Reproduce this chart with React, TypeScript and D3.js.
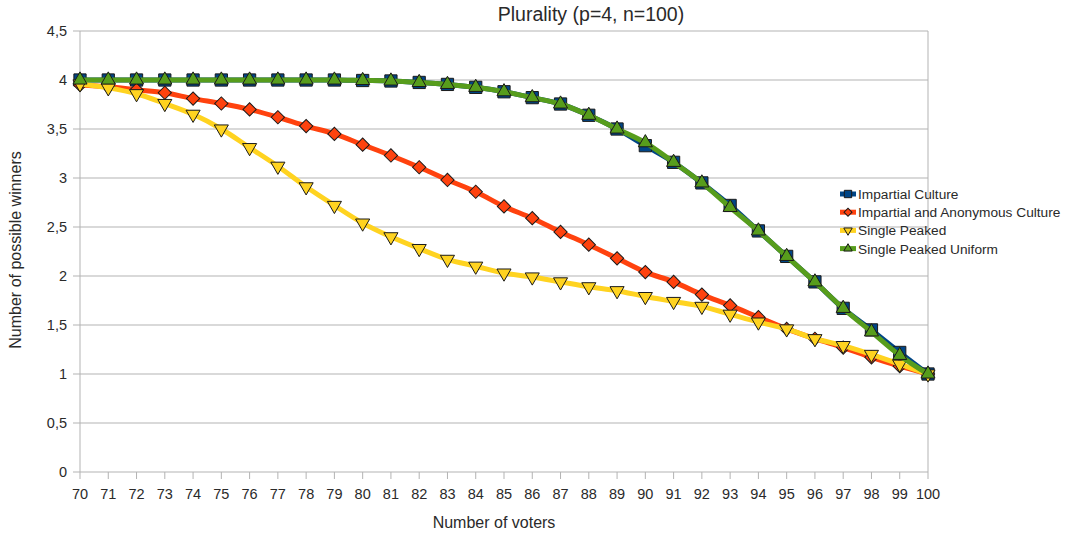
import { useRef, useEffect } from "react";
import * as d3 from "d3";

const voters = d3.range(70, 101);

const impartialCulture = [
  4, 4, 4, 4, 4, 4, 4, 4, 4, 4, 3.995, 3.99, 3.975, 3.955, 3.925, 3.88, 3.82,
  3.755, 3.64, 3.5, 3.33, 3.16, 2.95, 2.72, 2.46, 2.2, 1.94, 1.67, 1.45, 1.22, 1,
];
const impartialAnonymous = [
  3.95, 3.93, 3.9, 3.87, 3.81, 3.76, 3.7, 3.62, 3.53, 3.45, 3.34, 3.23, 3.11,
  2.98, 2.86, 2.71, 2.59, 2.45, 2.32, 2.18, 2.04, 1.94, 1.81, 1.7, 1.58, 1.46,
  1.36, 1.27, 1.17, 1.08, 1,
];
const singlePeaked = [
  3.96, 3.92, 3.86, 3.76, 3.65, 3.5, 3.31, 3.12, 2.91, 2.72, 2.54, 2.4, 2.28,
  2.17, 2.1, 2.03, 1.99, 1.94, 1.89, 1.85, 1.79, 1.74, 1.69, 1.61, 1.53, 1.46,
  1.36, 1.29, 1.2, 1.1, 1,
];
const singlePeakedUniform = [
  4, 4, 4, 4, 4, 4, 4, 4, 4, 4, 3.995, 3.99, 3.975, 3.955, 3.925, 3.88, 3.82,
  3.755, 3.64, 3.5, 3.36, 3.16, 2.95, 2.7, 2.46, 2.2, 1.94, 1.67, 1.43, 1.19, 1,
];
const yTicks = [0, 0.5, 1, 1.5, 2, 2.5, 3, 3.5, 4, 4.5];

const series = [
  { name: "Impartial Culture", values: impartialCulture, color: "#004586", shape: "square" },
  { name: "Impartial and Anonymous Culture", values: impartialAnonymous, color: "#ff420e", shape: "diamond" },
  { name: "Single Peaked", values: singlePeaked, color: "#ffd320", shape: "down" },
  { name: "Single Peaked Uniform", values: singlePeakedUniform, color: "#579d1c", shape: "up" },
];

const FONT = "'Liberation Sans', Arial, sans-serif";

function markerPath(shape: string, scale: number) {
  if (shape === "square") return d3.symbol(d3.symbolSquare, 150 * scale * scale)();
  if (shape === "diamond") return d3.symbol(d3.symbolSquare, 88 * scale * scale)();
  return d3.symbol(d3.symbolTriangle, 86 * scale * scale)();
}
function markerRotate(shape: string) {
  if (shape === "diamond") return 45;
  if (shape === "down") return 180;
  return 0;
}

export default function App() {
  const ref = useRef<SVGSVGElement>(null);

  useEffect(() => {
    const svg = d3.select(ref.current);
    svg.selectAll("*").remove();

    const left = 80, right = 928, top = 31, bottom = 472;
    const x = d3.scaleLinear().domain([70, 100]).range([left, right]);
    const y = d3.scaleLinear().domain([0, 4.5]).range([bottom, top]);
    const fmt = (v: number) => String(v).replace(".", ",");

    // grid + frame
    svg.append("g")
      .selectAll("line")
      .data(yTicks)
      .join("line")
      .attr("x1", left).attr("x2", right)
      .attr("y1", (d) => y(d)).attr("y2", (d) => y(d))
      .attr("stroke", "#b3b3b3").attr("stroke-width", 1);
    svg.append("line")
      .attr("x1", left).attr("x2", left).attr("y1", top).attr("y2", bottom)
      .attr("stroke", "#b3b3b3");
    svg.append("line")
      .attr("x1", right).attr("x2", right).attr("y1", top).attr("y2", bottom)
      .attr("stroke", "#b3b3b3");

    // y ticks
    const yg = svg.append("g");
    yg.selectAll("line")
      .data(yTicks)
      .join("line")
      .attr("x1", left - 7).attr("x2", left)
      .attr("y1", (d) => y(d)).attr("y2", (d) => y(d))
      .attr("stroke", "#b3b3b3");
    yg.selectAll("text")
      .data(yTicks)
      .join("text")
      .attr("x", left - 13).attr("y", (d) => y(d) + 5)
      .attr("text-anchor", "end")
      .attr("font-family", FONT).attr("font-size", 14.5).attr("fill", "#2a2a2a")
      .text(fmt);

    // x ticks
    const xg = svg.append("g");
    xg.selectAll("line")
      .data(voters)
      .join("line")
      .attr("x1", (d) => x(d)).attr("x2", (d) => x(d))
      .attr("y1", bottom).attr("y2", bottom + 7)
      .attr("stroke", "#b3b3b3");
    xg.selectAll("text")
      .data(voters)
      .join("text")
      .attr("x", (d) => x(d)).attr("y", bottom + 27)
      .attr("text-anchor", "middle")
      .attr("font-family", FONT).attr("font-size", 14.5).attr("fill", "#2a2a2a")
      .text((d) => d);

    // series
    const line = d3.line<number>()
      .x((_, i) => x(voters[i]))
      .y((d) => y(d))
      .curve(d3.curveMonotoneX);

    series.forEach((s) => {
      const g = svg.append("g");
      g.append("path")
        .attr("d", line(s.values))
        .attr("fill", "none")
        .attr("stroke", s.color)
        .attr("stroke-width", 5)
        .attr("stroke-linejoin", "round");
      g.selectAll("path.m")
        .data(s.values)
        .join("path")
        .attr("class", "m")
        .attr("d", markerPath(s.shape, 1))
        .attr("transform", (d, i) =>
          `translate(${x(voters[i])},${y(d)}) rotate(${markerRotate(s.shape)})`)
        .attr("fill", s.color)
        .attr("stroke", "#1a1a1a")
        .attr("stroke-width", 1);
    });

    // legend
    const lg = svg.append("g");
    series.forEach((s, i) => {
      const ly = 194 + i * 18.2;
      lg.append("line")
        .attr("x1", 840).attr("x2", 856).attr("y1", ly).attr("y2", ly)
        .attr("stroke", s.color).attr("stroke-width", 5);
      lg.append("path")
        .attr("d", markerPath(s.shape, 0.6))
        .attr("transform", `translate(848,${ly}) rotate(${markerRotate(s.shape)})`)
        .attr("fill", s.color).attr("stroke", "#1a1a1a").attr("stroke-width", 1);
      lg.append("text")
        .attr("x", 858).attr("y", ly + 5)
        .attr("font-family", FONT).attr("font-size", 13.7).attr("fill", "#2a2a2a")
        .text(s.name);
    });

    // titles
    svg.append("text")
      .attr("x", 591).attr("y", 21)
      .attr("text-anchor", "middle")
      .attr("font-family", FONT).attr("font-size", 19.5).attr("fill", "#2a2a2a")
      .text("Plurality (p=4, n=100)");
    svg.append("text")
      .attr("x", 494).attr("y", 528)
      .attr("text-anchor", "middle")
      .attr("font-family", FONT).attr("font-size", 16).attr("fill", "#2a2a2a")
      .text("Number of voters");
    svg.append("text")
      .attr("transform", "translate(21,250) rotate(-90)")
      .attr("text-anchor", "middle")
      .attr("font-family", FONT).attr("font-size", 16).attr("fill", "#2a2a2a")
      .text("Number of possible winners");
  }, []);

  return (
    <svg
      ref={ref}
      width={1070}
      height={536}
      style={{ position: "absolute", left: 0, top: 0, background: "#fff" }}
    />
  );
}
